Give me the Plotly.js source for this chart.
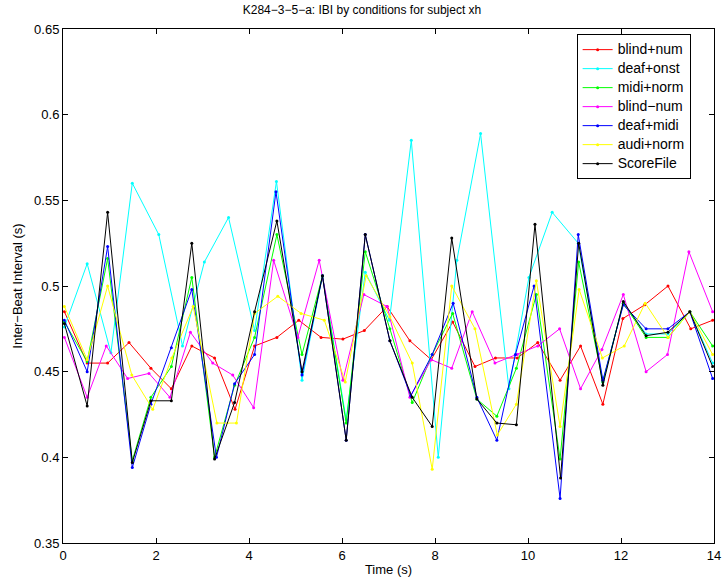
<!DOCTYPE html>
<html>
<head>
<meta charset="utf-8">
<script src="https://cdn.plot.ly/plotly-3.0.1.min.js"></script>
<style>html,body{margin:0;padding:0;background:#fff;}#chart{width:724px;height:586px;}</style>
</head>
<body>
<div id="chart"></div>
<script>
// Series names
const seriesNames = ["blind+num", "deaf+onst", "midi+norm", "blind\u2212num", "deaf+midi", "audi+norm", "ScoreFile"];

// Onset times (s) and inter-beat intervals (s)
const blindNumX = [0.03,0.52,0.96,1.42,1.89,2.33,2.77,3.26,3.70,4.12,4.60,5.07,5.55,6.02,6.48,6.97,7.46,7.92,8.38,8.86,9.30,9.77,10.21,10.69,11.13,11.61,12.04,12.51,13.01,13.50,13.97];
const blindNumY = [0.485,0.455,0.455,0.467,0.452,0.440,0.465,0.458,0.428,0.465,0.470,0.480,0.470,0.469,0.474,0.488,0.468,0.457,0.479,0.453,0.458,0.458,0.467,0.445,0.465,0.431,0.481,0.489,0.500,0.475,0.480];

const deafOnstX = [0.03,0.52,1.03,1.49,2.06,2.57,3.04,3.56,4.12,4.59,5.14,5.58,6.09,6.50,7.02,7.49,8.07,8.47,8.98,9.59,10.02,10.52,11.08,11.61,12.05,12.54,13.01,13.48,13.97];
const deafOnstY = [0.476,0.513,0.461,0.560,0.530,0.465,0.514,0.540,0.474,0.561,0.445,0.506,0.422,0.508,0.480,0.585,0.400,0.515,0.589,0.440,0.505,0.543,0.525,0.444,0.490,0.472,0.472,0.485,0.455];

const midiNormX = [0.03,0.52,0.96,1.49,1.89,2.33,2.77,3.26,3.69,4.12,4.60,5.14,5.58,6.09,6.50,7.03,7.51,7.94,8.38,8.90,9.33,9.75,10.18,10.69,11.09,11.61,12.05,12.54,13.01,13.48,13.97];
const midiNormY = [0.479,0.456,0.516,0.398,0.435,0.453,0.505,0.400,0.442,0.470,0.530,0.460,0.506,0.420,0.520,0.475,0.432,0.460,0.484,0.434,0.424,0.452,0.495,0.399,0.514,0.444,0.490,0.470,0.470,0.485,0.465];

const blindMinusX = [0.03,0.52,0.93,1.39,1.85,2.30,2.74,3.22,3.65,4.10,4.53,5.05,5.51,6.02,6.47,6.97,7.46,7.92,8.36,8.80,9.29,9.77,10.21,10.68,11.13,11.59,12.05,12.54,13.00,13.46,13.97];
const blindMinusY = [0.470,0.435,0.465,0.446,0.449,0.435,0.473,0.455,0.448,0.429,0.515,0.470,0.515,0.445,0.495,0.488,0.435,0.457,0.452,0.485,0.455,0.460,0.465,0.475,0.440,0.463,0.495,0.450,0.460,0.520,0.485];

const deafMidiX = [0.03,0.52,0.96,1.49,1.89,2.33,2.77,3.30,3.69,4.12,4.58,5.14,5.58,6.09,6.50,7.03,7.48,7.94,8.39,8.90,9.33,9.73,10.13,10.69,11.08,11.61,12.05,12.54,13.01,13.48,13.97];
const deafMidiY = [0.480,0.450,0.523,0.394,0.431,0.464,0.498,0.400,0.443,0.460,0.555,0.448,0.506,0.410,0.530,0.468,0.436,0.460,0.490,0.435,0.410,0.460,0.500,0.376,0.530,0.445,0.489,0.475,0.475,0.485,0.446];

const audiNormX = [0.03,0.52,0.96,1.48,1.93,2.34,2.80,3.31,3.73,4.12,4.62,5.12,5.62,6.07,6.52,7.03,7.51,7.94,8.36,8.86,9.34,9.75,10.18,10.69,11.10,11.60,12.07,12.52,13.01,13.48,13.97];
const audiNormY = [0.488,0.457,0.500,0.448,0.428,0.458,0.488,0.420,0.420,0.484,0.494,0.484,0.480,0.444,0.506,0.482,0.455,0.393,0.500,0.475,0.413,0.431,0.503,0.418,0.498,0.458,0.465,0.490,0.470,0.485,0.460];

const scoreFileX = [0.03,0.52,0.96,1.49,1.89,2.33,2.77,3.26,3.69,4.12,4.60,5.14,5.58,6.09,6.50,7.03,7.51,7.94,8.36,8.90,9.33,9.75,10.15,10.70,11.09,11.61,12.05,12.54,13.01,13.48,13.97];
const scoreFileY = [0.478,0.430,0.543,0.397,0.433,0.433,0.525,0.399,0.432,0.485,0.538,0.450,0.506,0.410,0.530,0.468,0.435,0.418,0.528,0.434,0.420,0.419,0.536,0.388,0.525,0.442,0.491,0.471,0.473,0.485,0.453];

const xTicks = [0,2,4,6,8,10,12,14];
const yTicks = [0.35,0.4,0.45,0.5,0.55,0.6,0.65];
const yTickText = ["0.35","0.4","0.45","0.5","0.55","0.6","0.65"];

const colors = ["#ff0000","#00ffff","#00ff00","#ff00ff","#0000ff","#ffff00","#000000"];
const xs = [blindNumX, deafOnstX, midiNormX, blindMinusX, deafMidiX, audiNormX, scoreFileX];
const ys = [blindNumY, deafOnstY, midiNormY, blindMinusY, deafMidiY, audiNormY, scoreFileY];

const traces = seriesNames.map((name, i) => ({
  type: "scatter",
  mode: "lines+markers",
  name: '<span style="font-size:14px">' + name + '</span>',
  x: xs[i],
  y: ys[i],
  line: {color: colors[i], width: 1},
  marker: {color: colors[i], size: 3, symbol: "circle"},
  hoverinfo: "skip"
}));

const FONT = "Liberation Sans, Arial, sans-serif";

const axisCommon = {
  showgrid: false,
  zeroline: false,
  showline: true,
  linecolor: "#000",
  linewidth: 1,
  mirror: "ticks",
  ticks: "inside",
  ticklen: 5,
  tickcolor: "#000",
  tickfont: {family: FONT, size: 13, color: "#000"}
};

const layout = {
  width: 724,
  height: 586,
  margin: {l: 63, r: 10, t: 29, b: 43},
  paper_bgcolor: "#fff",
  plot_bgcolor: "#fff",
  font: {family: FONT, size: 12, color: "#000"},
  title: {text: "K284\u22123\u22125\u2212a: IBI by conditions for subject xh", x: 0.5, xanchor: "center", y: 0.99, yanchor: "top", yref: "container", font: {size: 12, color: "#000"}},
  xaxis: Object.assign({}, axisCommon, {
    range: [0, 14],
    tickvals: xTicks,
    ticktext: xTicks.map(String),
    title: {text: "Time (s)", font: {size: 13}, standoff: 3}
  }),
  yaxis: Object.assign({}, axisCommon, {
    range: [0.35, 0.65],
    tickvals: yTicks,
    ticktext: yTickText,
    title: {text: "Inter\u2212Beat Interval (s)", font: {size: 13}, standoff: 8}
  }),
  legend: {
    x: 0.789, y: 0.99, xanchor: "left", yanchor: "top",
    bgcolor: "#fff", bordercolor: "#000", borderwidth: 1,
    font: {family: FONT, size: 11, color: "#000"},
    tracegroupgap: 0,
    itemwidth: 30
  },
  showlegend: true
};

Plotly.newPlot("chart", traces, layout, {displayModeBar: false, staticPlot: true});
</script>
</body>
</html>
